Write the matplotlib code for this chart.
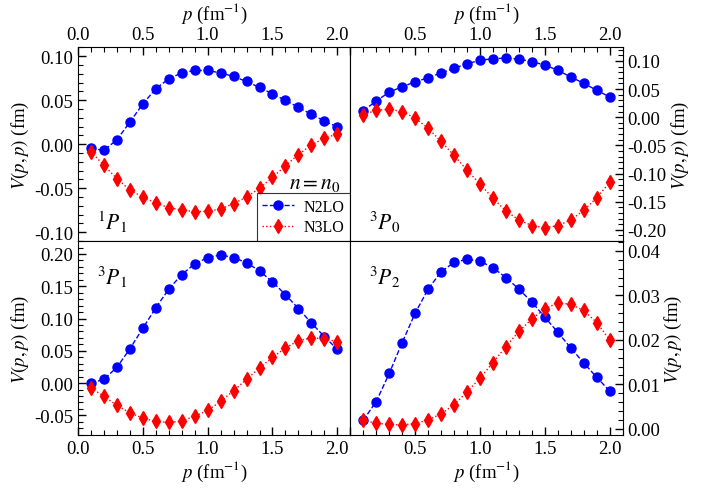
import numpy as np
import matplotlib

matplotlib.use('Agg')
import matplotlib.pyplot as plt
from matplotlib.ticker import MultipleLocator, AutoMinorLocator, FuncFormatter

plt.rcParams['font.family'] = ['Liberation Serif', 'DejaVu Serif']
plt.rcParams['mathtext.fontset'] = 'stix'
plt.rcParams['font.size'] = 13.5

p = [0.1, 0.2, 0.3, 0.4, 0.5, 0.6, 0.7, 0.8, 0.9, 1.0,
     1.1, 1.2, 1.3, 1.4, 1.5, 1.6, 1.7, 1.8, 1.9, 2.0]

# 1P1
n2lo_1p1 = [-0.0045, -0.007, 0.005, 0.025, 0.0457, 0.063, 0.0743, 0.081, 0.0838, 0.0838,
            0.081, 0.077, 0.0713, 0.0645, 0.0574, 0.0498, 0.0419, 0.034, 0.0264, 0.0196]
n3lo_1p1 = [-0.0083, -0.024, -0.039, -0.052, -0.060, -0.0668, -0.072, -0.0747, -0.0766, -0.0762,
            -0.0736, -0.0675, -0.060, -0.050, -0.0377, -0.0245, -0.0117, -0.0008, 0.0068, 0.0117]
# 3P0
n2lo_3p0 = [0.0112, 0.029, 0.0443, 0.0543, 0.0626, 0.0703, 0.0786, 0.0868, 0.0951, 0.101,
            0.104, 0.105, 0.1034, 0.0986, 0.0927, 0.0833, 0.0715, 0.0602, 0.0478, 0.036]
n3lo_3p0 = [0.0041, 0.0124, 0.0142, 0.010, -0.0018, -0.0195, -0.0431, -0.0679, -0.0939, -0.1187,
            -0.144, -0.1666, -0.1825, -0.1926, -0.196, -0.193, -0.1825, -0.1654, -0.143, -0.1158]
# 3P1
n2lo_3p1 = [0.0, 0.0057, 0.0243, 0.0528, 0.0848, 0.1164, 0.1454, 0.168, 0.1845, 0.1944,
            0.1986, 0.1944, 0.1865, 0.1738, 0.1567, 0.137, 0.1154, 0.0931, 0.0719, 0.0523]
n3lo_3p1 = [-0.0078, -0.0202, -0.0347, -0.046, -0.0543, -0.0595, -0.061, -0.059, -0.0512, -0.0424,
            -0.0285, -0.0119, 0.0057, 0.0233, 0.0398, 0.0543, 0.0657, 0.0698, 0.0688, 0.0636]
# 3P2
n2lo_3p2 = [0.00195, 0.00615, 0.01245, 0.0194, 0.026, 0.0314, 0.0353, 0.0374, 0.0381, 0.0377,
            0.0362, 0.034, 0.0314, 0.0285, 0.0251, 0.0217, 0.0182, 0.0148, 0.0116, 0.0085]
n3lo_3p2 = [0.0019, 0.0013, 0.0010, 0.0009, 0.0012, 0.0020, 0.0034, 0.0054, 0.0083, 0.0114,
            0.0149, 0.0185, 0.0219, 0.0247, 0.0270, 0.0283, 0.0280, 0.0266, 0.0239, 0.0200]

waves = [r'$^1P_1$', r'$^3P_0$', r'$^3P_1$', r'$^3P_2$']
n2lo = [n2lo_1p1, n2lo_3p0, n2lo_3p1, n2lo_3p2]
n3lo = [n3lo_1p1, n3lo_3p0, n3lo_3p1, n3lo_3p2]
ylims = [(-0.11, 0.11), (-0.22, 0.124), (-0.08, 0.22), (-0.0013, 0.0422)]
ysteps = [0.05, 0.05, 0.05, 0.01]
label_pos = [(0.07, 0.1), (0.07, 0.1), (0.07, 0.82), (0.07, 0.82)]


def right_xfmt(v, pos):
    # the right column drops 0.0 so it does not collide with 2.0 of the left column
    if abs(v) < 1e-9:
        return ''
    return '%.1f' % v


fig, axes = plt.subplots(2, 2, figsize=(7.02, 4.89), dpi=100)
fig.subplots_adjust(left=0.111, right=0.887, bottom=0.109, top=0.901, wspace=0, hspace=0)

for i, ax in enumerate(axes.flat):
    row, col = divmod(i, 2)
    ax.plot(p, n2lo[i], 'o--', color='#0000ff', ms=6.5, lw=1, label='N2LO')
    ax.plot(p, n3lo[i], 'd:', color='#ff0000', ms=7, lw=1, label='N3LO')
    ax.set_xlim(0, 2.1)
    ax.set_ylim(*ylims[i])
    ax.xaxis.set_major_locator(MultipleLocator(0.5))
    ax.xaxis.set_minor_locator(AutoMinorLocator(5))
    ax.yaxis.set_major_locator(MultipleLocator(ysteps[i]))
    ax.yaxis.set_minor_locator(AutoMinorLocator(5))
    if col == 1:
        ax.xaxis.set_major_formatter(FuncFormatter(right_xfmt))
    else:
        ax.xaxis.set_major_formatter(plt.FormatStrFormatter('%.1f'))
    ax.yaxis.set_major_formatter(plt.FormatStrFormatter('%.2f'))

    top = row == 0
    right = col == 1
    ax.tick_params(which='both', direction='in',
                   top=top, bottom=not top, labeltop=top, labelbottom=not top,
                   left=not right, right=right, labelleft=not right, labelright=right)
    ax.tick_params(which='major', length=6, width=1)
    ax.tick_params(which='minor', length=3.5, width=0.8)

    if top:
        ax.xaxis.set_label_position('top')
        ax.set_xlabel(r'$p$ (fm$^{-1}$)', labelpad=5)
    else:
        ax.set_xlabel(r'$p$ (fm$^{-1}$)', labelpad=2)
    if right:
        ax.yaxis.set_label_position('right')
    ax.set_ylabel(r'$V(p,p)$ (fm)', labelpad=2)

    ax.text(label_pos[i][0], label_pos[i][1], waves[i], transform=ax.transAxes,
            fontsize=15.5, va='center', ha='left')

ax0 = axes[0, 0]
leg = ax0.legend(loc='lower right', frameon=True, fancybox=False, edgecolor='black',
                 fontsize=11.5, borderaxespad=0, handlelength=2.0, borderpad=0.35,
                 labelspacing=0.3, handletextpad=0.6)
leg.get_frame().set_linewidth(0.8)
ax0.text(0.965, 0.295, r'$n=n_0$', transform=ax0.transAxes, ha='right', va='center', fontsize=15.5)

fig.savefig('out.png', dpi=100)
